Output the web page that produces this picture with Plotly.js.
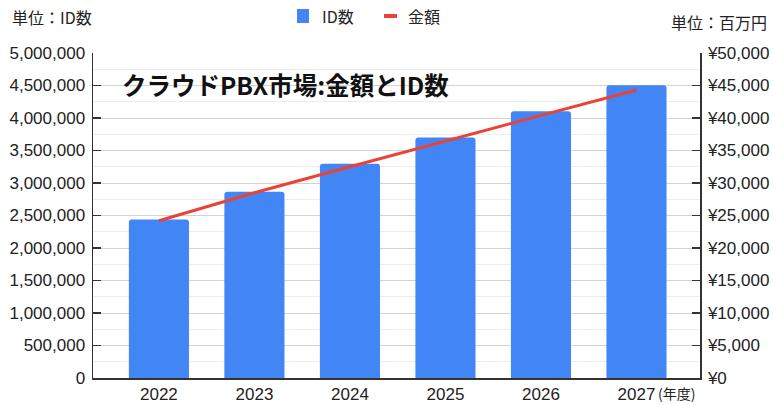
<!DOCTYPE html>
<html>
<head>
<meta charset="utf-8">
<script src="https://cdn.plot.ly/plotly-3.0.1.min.js"></script>
<style>html,body{margin:0;padding:0;background:#fff;}#chart{width:773px;height:405px;}</style>
</head>
<body>
<div id="chart"></div>
<script>
// ---- data ----
const years = ['2022', '2023', '2024', '2025', '2026', '2027'];
const idCounts = [2440000, 2865000, 3295000, 3700000, 4105000, 4505000];
const amounts = [24200, 28500, 32500, 36500, 40400, 44300];
const seriesNames = ['ID数', '金額'];
const titleText = 'クラウドPBX市場:金額とID数';
const leftUnit = '単位：ID数';
const rightUnit = '単位：百万円';
const yearUnit = '(年度)';

// ---- layout helpers ----
const W = 773, H = 405;
const M = {l: 93, r: 73, t: 53, b: 27};
const PW = W - M.l - M.r, PH = H - M.t - M.b;
const px = x => (x - M.l) / PW;
const py = y => (H - M.b - y) / PH;

const jp = '"Noto Sans CJK JP", "Noto Sans", sans-serif';
const num = '"Liberation Sans", Arial, sans-serif';
const blue = '#4285F4', red = '#EA4335';

const traces = [
  {type: 'bar', x: years, y: idCounts, name: seriesNames[0], marker: {color: blue}, yaxis: 'y'},
  {type: 'scatter', mode: 'lines', x: years, y: amounts, name: seriesNames[1], line: {color: red, width: 3}, yaxis: 'y2'}
];

const tf = {family: num, size: 17, color: '#222'};

const layout = {
  width: W, height: H,
  margin: M,
  paper_bgcolor: '#fff', plot_bgcolor: '#fff',
  showlegend: false,
  bargap: 0.371,
  barcornerradius: 3,
  font: tf,
  xaxis: {
    type: 'category', range: [-0.69, 5.665],
    showline: true, linecolor: '#333', linewidth: 1.5,
    ticks: '', showgrid: false, zeroline: false,
    tickfont: tf
  },
  yaxis: {
    range: [0, 5000000], dtick: 500000, tick0: 0, tickformat: ',',
    showline: true, linecolor: '#333', linewidth: 1.5,
    ticks: 'inside', ticklen: 8, tickcolor: '#333', tickwidth: 1.5,
    showgrid: true, gridcolor: '#d3d3d3', gridwidth: 1,
    minor: {dtick: 250000, showgrid: true, gridcolor: '#ececec', gridwidth: 1, ticks: ''},
    zeroline: false, ticklabelstandoff: 3,
    tickfont: tf
  },
  yaxis2: {
    overlaying: 'y', side: 'right',
    range: [0, 50000], dtick: 5000, tick0: 0, tickformat: ',', tickprefix: '¥',
    showline: true, linecolor: '#333', linewidth: 1.5,
    ticks: 'inside', ticklen: 8, tickcolor: '#333', tickwidth: 1.5,
    showgrid: false, zeroline: false, ticklabelstandoff: 3,
    tickfont: tf
  },
  shapes: [
    {type: 'rect', xref: 'paper', yref: 'paper', x0: px(297), x1: px(309), y0: py(23), y1: py(9),
     fillcolor: blue, line: {width: 0}},
    {type: 'line', xref: 'paper', yref: 'paper', x0: px(384), x1: px(397), y0: py(16), y1: py(16),
     line: {color: red, width: 4}}
  ],
  annotations: [
    {xref: 'paper', yref: 'paper', x: px(120), y: py(84), xanchor: 'left', yanchor: 'middle', showarrow: false,
     text: '<b>' + titleText + '</b>', font: {family: jp, size: 24.5, color: '#111'}},
    {xref: 'paper', yref: 'paper', x: px(320), y: py(16), xanchor: 'left', yanchor: 'middle', showarrow: false,
     text: seriesNames[0], font: {family: jp, size: 16, color: '#222'}},
    {xref: 'paper', yref: 'paper', x: px(406), y: py(16), xanchor: 'left', yanchor: 'middle', showarrow: false,
     text: seriesNames[1], font: {family: jp, size: 16, color: '#222'}},
    {xref: 'paper', yref: 'paper', x: px(10), y: py(17), xanchor: 'left', yanchor: 'middle', showarrow: false,
     text: leftUnit, font: {family: jp, size: 16, color: '#222'}},
    {xref: 'paper', yref: 'paper', x: px(769), y: py(22), xanchor: 'right', yanchor: 'middle', showarrow: false,
     text: rightUnit, font: {family: jp, size: 16, color: '#222'}},
    {xref: 'paper', yref: 'paper', x: px(657), y: py(404), xanchor: 'left', yanchor: 'bottom', showarrow: false,
     borderpad: 0, text: yearUnit, font: {family: jp, size: 14, color: '#222'}}
  ]
};

Plotly.newPlot('chart', traces, layout, {displayModeBar: false, staticPlot: true});
</script>
</body>
</html>
